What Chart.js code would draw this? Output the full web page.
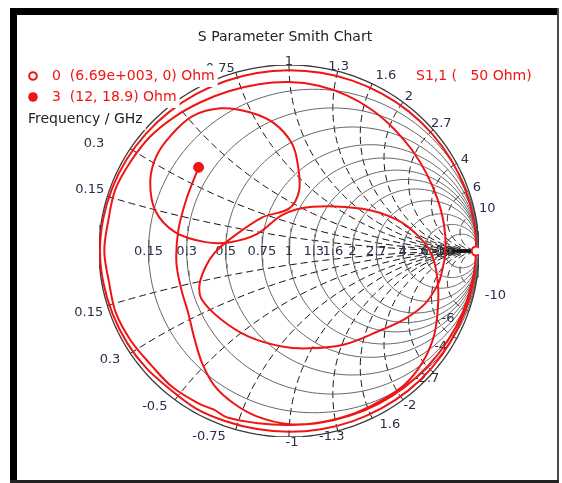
<!DOCTYPE html>
<html>
<head>
<meta charset="utf-8">
<script src="https://cdn.jsdelivr.net/npm/chart.js@4.4.1/dist/chart.umd.min.js"></script>
<style>
  html, body { margin: 0; padding: 0; background: #fff; }
  canvas { display: block; }
</style>
</head>
<body>
<canvas id="smith" width="562" height="483"></canvas>
<script>
// Reference impedance of the port
const Z0 = 50;

// Markers: frequency (GHz) and impedance (Ohm)
const markerNames = ['0', '3'];
const markerFreqGHz = [0, 3];
const markerR = [6690, 12];
const markerX = [0, 18.9];

// Grid values (normalised resistance circles and reactance arcs)
const rTicks = [0.15, 0.3, 0.5, 0.75, 1, 1.3, 1.6, 2, 2.7, 4, 6, 10];
const xTicks = [0.15, 0.3, 0.5, 0.75, 1, 1.3, 1.6, 2, 2.7, 4, 6, 10];
// Rim tick labels (upper = +jx, lower = -jx)
const upperRimLabels = ['0.15', '0.3', '0.5', '0.75', '1', '1.3', '1.6', '2', '2.7', '4', '6', '10'];
const lowerRimLabels = ['0.15', '0.3', '-0.5', '-0.75', '-1', '-1.3', '1.6', '-2', '-2.7', '-4', '-6', '-10'];

// S1,1 sweep between the two markers: magnitude and angle (degrees)
const s11Mag = [
  0.984, 0.982, 0.980, 0.979, 0.978, 0.976, 0.975, 0.973, 0.972, 0.972,
  0.974, 0.978, 0.972, 0.980, 0.985, 0.988, 0.992, 0.995, 0.993, 0.990,
  0.986, 0.982, 0.978, 0.975, 0.973, 0.972, 0.972, 0.973, 0.975, 0.977,
  0.980, 0.982, 0.984, 0.985, 0.986, 0.985,
  0.978, 0.972, 0.965, 0.958, 0.952, 0.947, 0.942, 0.938, 0.935, 0.940,
  0.952, 0.940, 0.948, 0.955, 0.950, 0.962, 0.970, 0.962, 0.972, 0.965,
  0.972, 0.962, 0.955, 0.940, 0.925, 0.915, 0.910, 0.908, 0.902, 0.890,
  0.875, 0.858, 0.845, 0.835, 0.830, 0.828, 0.824, 0.812,
  0.804, 0.769, 0.710, 0.641, 0.581, 0.534, 0.515, 0.507, 0.513, 0.528,
  0.504, 0.447, 0.392, 0.323, 0.230, 0.228, 0.327, 0.458, 0.577, 0.692,
  0.774, 0.847, 0.885, 0.879, 0.864, 0.821, 0.736, 0.606, 0.442, 0.311,
  0.192, 0.198, 0.267, 0.448, 0.591, 0.692, 0.757, 0.801, 0.843, 0.890,
  0.923, 0.942, 0.939, 0.938, 0.936, 0.931, 0.905, 0.870, 0.824, 0.760,
  0.685, 0.628, 0.603, 0.596, 0.593, 0.608
];
const s11Ang = [
  -10, -20, -30, -40, -50, -60, -70, -80, -90, -100,
  -110, -120, -130, -140, -150, -160, -170, 180, 170, 160,
  150, 140, 130, 120, 110, 100, 90, 80, 70, 60,
  50, 40, 30, 20, 10, 0,
  -10, -20, -30, -40, -50, -60, -70, -80, -90, -100,
  -110, -115, -120, -130, -140, -150, -160, -170, 180, 170,
  160, 150, 140, 130, 120, 110, 100, 90, 80, 70,
  60, 50, 40, 30, 20, 10, 0, -8,
  -12.9, -21.8, -31.0, -42.0, -59.9, -78.6, -94.1, -114.7, -134.6, -150.6,
  -159.1, -169.1, -178.5, 169.6, 128.5, 90, 80.7, 84.0, 88.4, 96.6,
  105.5, 115.1, 125.0, 135.2, 144.0, 152.8, 162.9, 170.5, 173.8, 171.2,
  152.0, 99.2, 62.9, 30.5, 16.6, 6.1, -2.4, -12.2, -21.7, -31.1,
  -40.4, -49.8, -59.5, -68.5, -79.6, -90, -100.8, -109.5, -118.4, -126.8,
  -136.6, -147.4, -160.0, -173.9, 169.2, 152.5
];

// ---------------------------------------------------------------
const RED = '#f01414';
const LABEL_COLOR = '#26304a';
const FONT = '"DejaVu Sans", Verdana, sans-serif';

// fine placement of rim labels (pixels, relative to the automatic spot)
const upperLabelShift = [[0, -1], [-24, 3], [0, 0], [-12, 8], [0, 5], [-2, 6], [8, 3], [0, 2], [-3, 3], [0, 0], [0, 0], [0, -3]];
const lowerLabelShift = [[-1, 2], [-8, -2], [-11, -5], [-23, -5], [3, -3], [-9, -5], [12, -5], [0, -3], [-19, -4], [-26, 3], [-31, 4], [6, 5]];

// normalised impedance -> reflection coefficient
function gammaOf(r, x) {
  const d = (r + 1) * (r + 1) + x * x;
  return { x: (r * r + x * x - 1) / d, y: 2 * x / d };
}

function rCircle(r) {
  const c = r / (1 + r), rad = 1 / (1 + r), pts = [];
  for (let t = 0; t <= 360; t += 2) {
    const a = t * Math.PI / 180;
    pts.push({ x: c + rad * Math.cos(a), y: rad * Math.sin(a) });
  }
  return pts;
}

function xArc(x) {
  const ax = Math.abs(x), s = Math.sign(x);
  const cy = 1 / ax, rad = 1 / ax;
  const t = gammaOf(0, ax);
  let a0 = Math.atan2(t.y - cy, t.x - 1);
  if (a0 < 0) a0 += 2 * Math.PI;
  const a1 = 1.5 * Math.PI, n = 90, pts = [];
  for (let k = 0; k <= n; k++) {
    const a = a0 + (a1 - a0) * k / n;
    pts.push({ x: 1 + rad * Math.cos(a), y: s * (cy + rad * Math.sin(a)) });
  }
  return pts;
}

const datasets = [];
// outer boundary
datasets.push({ data: rCircle(0), showLine: true, pointRadius: 0, borderColor: '#3a3a3a', borderWidth: 1.3, order: 3 });
rTicks.forEach(r => datasets.push({
  data: rCircle(r), showLine: true, pointRadius: 0, borderColor: '#666', borderWidth: 1, order: 3
}));
xTicks.forEach(x => [x, -x].forEach(v => datasets.push({
  data: xArc(v), showLine: true, pointRadius: 0, borderColor: '#111', borderWidth: 1, borderDash: [7, 4], order: 3
})));

const markerGamma = markerR.map((R, i) => gammaOf(R / Z0, markerX[i] / Z0));
const trace = [markerGamma[0]];
s11Mag.forEach((m, i) => {
  const a = s11Ang[i] * Math.PI / 180;
  trace.push({ x: m * Math.cos(a), y: m * Math.sin(a) });
});
trace.push(markerGamma[1]);

const TRACE_INDEX = datasets.length;
datasets.push({ data: trace, showLine: true, pointRadius: 0, borderColor: RED, borderWidth: 2, tension: 0.35, order: 1 });
datasets.push({ data: [markerGamma[0]], pointRadius: 4.5, pointBackgroundColor: '#fff', pointBorderColor: RED, pointBorderWidth: 2, order: 0 });
datasets.push({ data: [markerGamma[1]], pointRadius: 5, pointBackgroundColor: RED, pointBorderColor: RED, pointBorderWidth: 1, order: 0 });

function fmtOhm(v) {
  if (Math.abs(v) >= 1000) {
    const e = Math.floor(Math.log10(Math.abs(v)));
    const m = (v / Math.pow(10, e)).toFixed(2);
    return m + 'e+' + String(e).padStart(3, '0');
  }
  return String(v);
}

function drawTickLabels(chart) {
  const ctx = chart.ctx, xs = chart.scales.x, ys = chart.scales.y;
  const px = g => ({ x: xs.getPixelForValue(g.x), y: ys.getPixelForValue(g.y) });
  const c = px({ x: 0, y: 0 });
  ctx.save();
  ctx.fillStyle = LABEL_COLOR;
  ctx.font = '13px ' + FONT;
  ctx.textAlign = 'center';
  ctx.textBaseline = 'middle';
  // resistance values along the real axis
  rTicks.forEach(r => {
    const p = px({ x: (r - 1) / (r + 1), y: 0 });
    ctx.fillText(String(r), p.x, p.y + 1);
  });
  // reactance values around the rim
  const rim = (v, txt, shift) => {
    const p = px(gammaOf(0, v));
    let ux = p.x - c.x, uy = p.y - c.y;
    const L = Math.hypot(ux, uy); ux /= L; uy /= L;
    const w = ctx.measureText(txt).width, h = 11;
    const d = 3 + Math.abs(ux) * w / 2 + Math.abs(uy) * h / 2;
    ctx.fillText(txt, p.x + ux * d + shift[0], p.y + uy * d + shift[1]);
  };
  xTicks.forEach((x, i) => {
    rim(x, upperRimLabels[i], upperLabelShift[i]);
    rim(-x, lowerRimLabels[i], lowerLabelShift[i]);
  });
  ctx.restore();
}

function drawLegend(chart) {
  const ctx = chart.ctx;
  ctx.save();
  ctx.font = '14px ' + FONT;
  ctx.textBaseline = 'middle';
  const rows = [
    { y: 76, text: markerNames[0] + '  (' + fmtOhm(markerR[0]) + ', ' + fmtOhm(markerX[0]) + ') Ohm', color: RED, x: 52 },
    { y: 97, text: markerNames[1] + '  (' + fmtOhm(markerR[1]) + ', ' + fmtOhm(markerX[1]) + ') Ohm', color: RED, x: 52 },
    { y: 119, text: 'Frequency / GHz', color: '#222', x: 28 }
  ];
  rows.forEach(r => {
    const w = ctx.measureText(r.text).width;
    ctx.fillStyle = '#fff';
    ctx.fillRect(22, r.y - 10.5, r.x - 22 + w + 3, 21.5);
  });
  rows.forEach(r => {
    ctx.fillStyle = r.color;
    ctx.fillText(r.text, r.x, r.y);
  });
  // marker symbols
  ctx.strokeStyle = RED; ctx.lineWidth = 2; ctx.fillStyle = '#fff';
  ctx.beginPath(); ctx.arc(33, 76, 3.8, 0, 2 * Math.PI); ctx.fill(); ctx.stroke();
  ctx.fillStyle = RED;
  ctx.beginPath(); ctx.arc(33, 97, 4.8, 0, 2 * Math.PI); ctx.fill();
  // trace name
  ctx.fillText('S1,1 (   ' + Z0 + ' Ohm)', 416, 76);
  // title
  ctx.fillStyle = '#222';
  ctx.textAlign = 'center';
  ctx.fillText('S Parameter Smith Chart', 285, 37);
  ctx.restore();
}

function drawFrame(chart) {
  const ctx = chart.ctx;
  ctx.save();
  ctx.fillStyle = '#000';
  ctx.fillRect(10, 8, 7, 475);
  ctx.fillRect(10, 8, 549, 7);
  ctx.fillStyle = '#4a4a4a';
  ctx.fillRect(557, 8, 2, 475);
  ctx.fillStyle = '#222';
  ctx.fillRect(10, 480, 549, 3);
  ctx.restore();
}

const smithPlugin = {
  id: 'smithDecor',
  beforeDatasetDraw(chart, args) {
    if (args.index === TRACE_INDEX) drawTickLabels(chart);
  },
  afterDatasetsDraw(chart) { drawLegend(chart); },
  afterDraw(chart) { drawFrame(chart); }
};

new Chart(document.getElementById('smith'), {
  type: 'scatter',
  data: { datasets },
  options: {
    responsive: false,
    devicePixelRatio: 1,
    animation: false,
    events: [],
    layout: { padding: { left: 99, right: 83, top: 65, bottom: 46 } },
    scales: {
      x: { type: 'linear', min: -1, max: 1, display: false },
      y: { type: 'linear', min: -1, max: 1, display: false }
    },
    plugins: { legend: { display: false }, tooltip: { enabled: false }, title: { display: false } }
  },
  plugins: [smithPlugin]
});
</script>
</body>
</html>
